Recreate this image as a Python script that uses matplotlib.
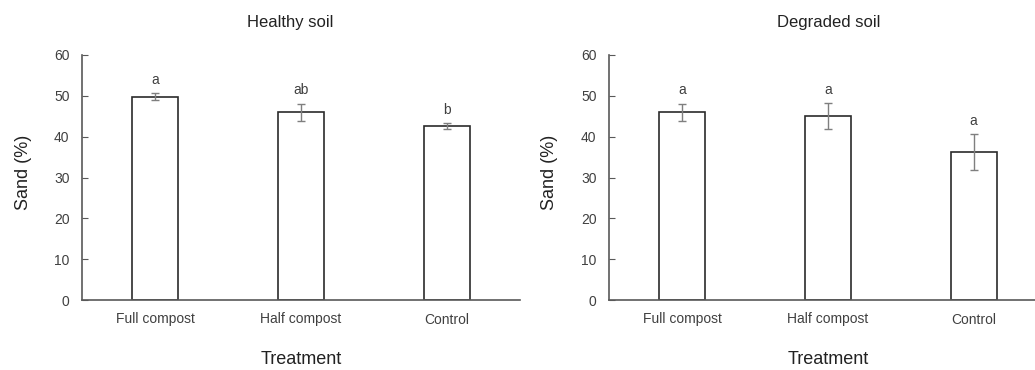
import numpy as np
import matplotlib
matplotlib.use("Agg")
import matplotlib.pyplot as plt

plt.rcParams['font.family'] = ['Liberation Sans', 'DejaVu Sans']

# data
treatments = ['Full compost', 'Half compost', 'Control']
healthy_sand = [49.8, 46.0, 42.6]
healthy_err = [0.9, 2.1, 0.8]
healthy_letters = ['a', 'ab', 'b']
degraded_sand = [46.0, 45.1, 36.2]
degraded_err = [2.1, 3.2, 4.4]
degraded_letters = ['a', 'a', 'a']

W, H = 1035, 370
fig = plt.figure(figsize=(W / 100, H / 100), dpi=100)

txt = '#404040'
spine = '#595959'


def panel(left_px, right_px, xmax, vals, errs, letters, title, title_x):
    ax = fig.add_axes([left_px / W, 70 / H, (right_px - left_px) / W, 245 / H])
    x = np.arange(len(treatments))
    ax.bar(x, vals, width=0.315, color='white', edgecolor='#2b2b2b', linewidth=1.2, zorder=2)
    ax.errorbar(x, vals, yerr=errs, fmt='none', ecolor='#7f7f7f', elinewidth=1,
                capsize=3, capthick=1, zorder=3)
    for xi, v, e, lab in zip(x, vals, errs, letters):
        ax.annotate(lab, (xi, v + e), xytext=(0, 4.5), textcoords='offset points',
                    ha='center', va='bottom', fontsize=10, color=txt)
    ax.set_xlim(-0.5, xmax)
    ax.set_ylim(0, 60)
    ax.set_yticks(range(0, 61, 10))
    ax.set_xticks(x)
    ax.set_xticklabels(treatments)
    for s in ['top', 'right']:
        ax.spines[s].set_visible(False)
    for s in ['left', 'bottom']:
        ax.spines[s].set_color(spine)
        ax.spines[s].set_linewidth(1.2)
    ax.tick_params(axis='y', direction='in', length=4, color=spine, labelsize=10,
                   labelcolor=txt, pad=9)
    ax.tick_params(axis='x', length=0, labelsize=10, labelcolor=txt, pad=9)
    fig.text(title_x / W, 1 - 23 / H, title, ha='center', va='center', fontsize=12, color='#222222')
    fig.text(((left_px + (left_px + 438)) / 2) / W, 1 - 360 / H, 'Treatment',
             ha='center', va='center', fontsize=13, color='#222222')
    fig.text((left_px - 59) / W, 1 - 172 / H, 'Sand (%)', rotation=90,
             ha='center', va='center', fontsize=13, color='#222222')
    return ax


panel(82, 520, 2.5, healthy_sand, healthy_err, healthy_letters, 'Healthy soil', 290)
panel(609, 1035, 2.42, degraded_sand, degraded_err, degraded_letters, 'Degraded soil', 829)

fig.savefig('out.png', dpi=100)
